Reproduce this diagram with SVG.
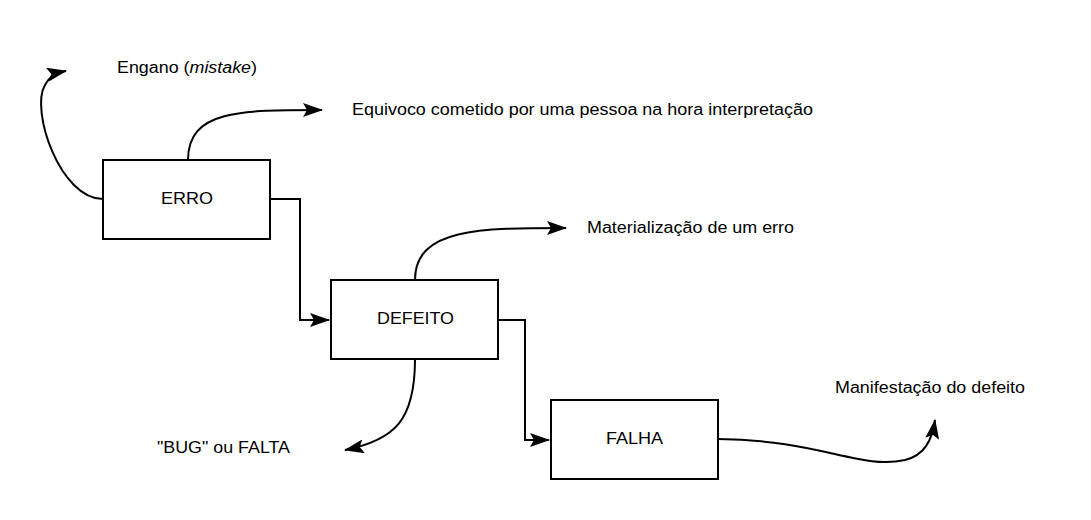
<svg xmlns="http://www.w3.org/2000/svg" width="1091" height="520" viewBox="0 0 1091 520">
<style>
text{font-family:"Liberation Sans",Arial,sans-serif;font-size:16px;fill:#000}
.box{fill:#fff;stroke:#000;stroke-width:2}
.c{fill:none;stroke:#000;stroke-width:2}
</style>
<defs>
<marker id="b" viewBox="0 0 20 14" refX="19" refY="7" markerWidth="20" markerHeight="14" markerUnits="userSpaceOnUse" orient="auto"><path d="M0,0 L20,7 L0,14 L4,7 Z" fill="#000"/></marker></defs>
<rect width="1091" height="520" fill="#fff"/>
<g id="connectors">
<path class="c" d="M270,199 H300 V320 H329" marker-end="url(#b)"/>
<path class="c" d="M498,320 H525 V440 H549" marker-end="url(#b)"/>
<path class="c" d="M103,199 C60,199 30,110 45,85 C50,76 56,73 66,71" marker-end="url(#b)"/>
<path class="c" d="M188,160 C188,110 240,110 322,110" marker-end="url(#b)"/>
<path class="c" d="M415,280 C415,228 480,228 566,228" marker-end="url(#b)"/>
<path class="c" d="M415,359 C415,420 395,440 345,450" marker-end="url(#b)"/>
<path class="c" d="M718,439 C820,440 860,470 905,460 C925,455 932,440 935,420" marker-end="url(#b)"/>
</g>
<g id="erro"><rect class="box" x="103" y="160" width="167" height="79"/><text x="161" y="204" textLength="52" lengthAdjust="spacingAndGlyphs">ERRO</text></g>
<g id="defeito"><rect class="box" x="331" y="280" width="167" height="79"/><text x="377" y="324" textLength="77" lengthAdjust="spacingAndGlyphs">DEFEITO</text></g>
<g id="falha"><rect class="box" x="551" y="400" width="167" height="79"/><text x="606" y="444" textLength="57" lengthAdjust="spacingAndGlyphs">FALHA</text></g>
<g id="labels">
<text x="117" y="73" textLength="140" lengthAdjust="spacingAndGlyphs">Engano (<tspan font-style="italic">mistake</tspan>)</text>
<text x="352" y="115" textLength="461" lengthAdjust="spacingAndGlyphs">Equivoco cometido por uma pessoa na hora interpretação</text>
<text x="587" y="233" textLength="207" lengthAdjust="spacingAndGlyphs">Materialização de um erro</text>
<text x="835" y="393" textLength="190" lengthAdjust="spacingAndGlyphs">Manifestação do defeito</text>
<text x="157" y="453" textLength="133" lengthAdjust="spacingAndGlyphs">"BUG" ou FALTA</text>
</g>
</svg>
